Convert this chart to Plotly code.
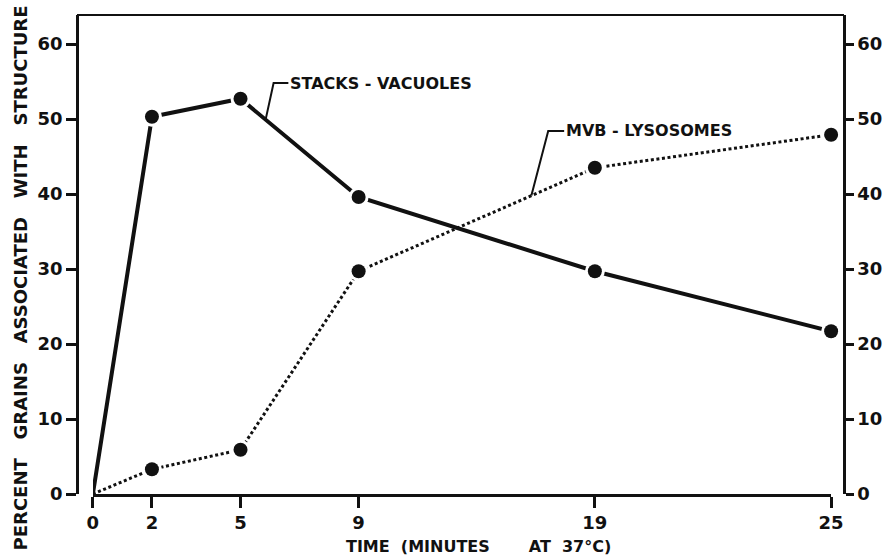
import numpy as np
import plotly.graph_objects as go

# ---- data ----
x_pos = [0, 2, 5, 9, 17, 25]          # horizontal positions of the plotted times as drawn
x_labels = ["0", "2", "5", "9", "19", "25"]
stacks_vacuoles = [0, 50.3, 52.7, 39.6, 29.7, 21.7]
mvb_lysosomes = [0, 3.3, 5.9, 29.7, 43.5, 47.9]
y_ticks = [0, 10, 20, 30, 40, 50, 60]
y_labels = ["0", "10", "20", "30", "40", "50", "60"]

FONT = "DejaVu Sans"
BLACK = "#111111"

fig = go.Figure()

# lines
fig.add_trace(go.Scatter(x=x_pos, y=stacks_vacuoles, mode="lines",
                         line=dict(color=BLACK, width=4), cliponaxis=False,
                         hoverinfo="skip", showlegend=False))
fig.add_trace(go.Scatter(x=x_pos, y=mvb_lysosomes, mode="lines",
                         line=dict(color=BLACK, width=3, dash="3px,2.6px"), cliponaxis=False,
                         hoverinfo="skip", showlegend=False))
# white halos + dots (no marker at t=0)
for ys in (stacks_vacuoles, mvb_lysosomes):
    fig.add_trace(go.Scatter(x=x_pos[1:], y=ys[1:], mode="markers",
                             marker=dict(color="white", size=20), cliponaxis=False,
                             hoverinfo="skip", showlegend=False))
for ys in (stacks_vacuoles, mvb_lysosomes):
    fig.add_trace(go.Scatter(x=x_pos[1:], y=ys[1:], mode="markers",
                             marker=dict(color=BLACK, size=14), cliponaxis=False,
                             name="", showlegend=False))

axis_common = dict(showline=True, linecolor=BLACK, linewidth=2.5, ticks="outside",
                   tickcolor=BLACK, tickwidth=2.5, showgrid=False, zeroline=False,
                   tickfont=dict(family=FONT, size=18, color=BLACK, weight="bold"))

W, H = 894, 557
ML, MR, MT, MB = 77, 44, 15, 63
pw = W - ML - MR
ph = H - MT - MB
x0_px, x25_px = 93, 837

fig.update_layout(
    width=W, height=H,
    margin=dict(l=ML, r=MR, t=MT, b=MB, pad=0),
    paper_bgcolor="white", plot_bgcolor="white",
    xaxis=dict(domain=[(x0_px - ML) / pw, (x25_px - ML) / pw], range=[0, 25],
               tickmode="array", tickvals=x_pos, ticktext=x_labels, ticklen=11,
               anchor="y", **axis_common),
    yaxis=dict(range=[0, 63.87], anchor="free", position=0, side="left",
               tickmode="array", tickvals=y_ticks, ticktext=y_labels, ticklen=10,
               **axis_common),
    yaxis2=dict(range=[0, 63.87], anchor="free", position=1, side="right",
                overlaying="y", tickmode="array", tickvals=y_ticks, ticktext=y_labels,
                ticklen=8, **axis_common),
)
# invisible trace so yaxis2 is drawn
fig.add_trace(go.Scatter(x=[None], y=[None], yaxis="y2", showlegend=False, hoverinfo="skip"))

# top frame line
fig.add_shape(type="line", xref="paper", yref="paper", x0=0, x1=1, y0=1, y1=1,
              line=dict(color=BLACK, width=2))

# leader lines for series labels
def leader(series, xa, xc, yc, xe):
    ya = float(np.interp(xa, x_pos, series))
    fig.add_shape(type="path", xref="x", yref="y",
                  path=f"M {xa},{ya} L {xc},{yc} L {xe},{yc}",
                  line=dict(color=BLACK, width=2))

leader(stacks_vacuoles, 5.85, 6.12, 54.8, 6.62)
leader(mvb_lysosomes, 14.85, 15.42, 48.4, 15.96)

lab_font = dict(family=FONT, size=16, color=BLACK, weight="bold")
fig.add_annotation(x=6.62, y=54.8, xref="x", yref="y", text="STACKS - VACUOLES",
                   showarrow=False, xanchor="left", yanchor="middle", font=lab_font)
fig.add_annotation(x=15.96, y=48.5, xref="x", yref="y", text="MVB - LYSOSOMES",
                   showarrow=False, xanchor="left", yanchor="middle", font=lab_font)

sp = "\u00a0"
title_font = dict(family=FONT, size=16, color=BLACK, weight="bold")
fig.add_annotation(x=(482 - ML) / pw, y=(494 - 546) / ph, xref="paper", yref="paper",
                   text=f"TIME{sp*2}(MINUTES{sp*7}AT{sp*2}37°C)", showarrow=False,
                   xanchor="center", yanchor="middle", font=title_font)
fig.add_annotation(x=(20 - ML) / pw, y=(494 - 278) / ph, xref="paper", yref="paper",
                   text=f"PERCENT{sp*3}GRAINS{sp*3}ASSOCIATED{sp*3}WITH{sp*3}STRUCTURE",
                   showarrow=False, textangle=-90, xanchor="center", yanchor="middle",
                   font=dict(family=FONT, size=18, color=BLACK, weight="bold"))

fig.write_html("out.html")
